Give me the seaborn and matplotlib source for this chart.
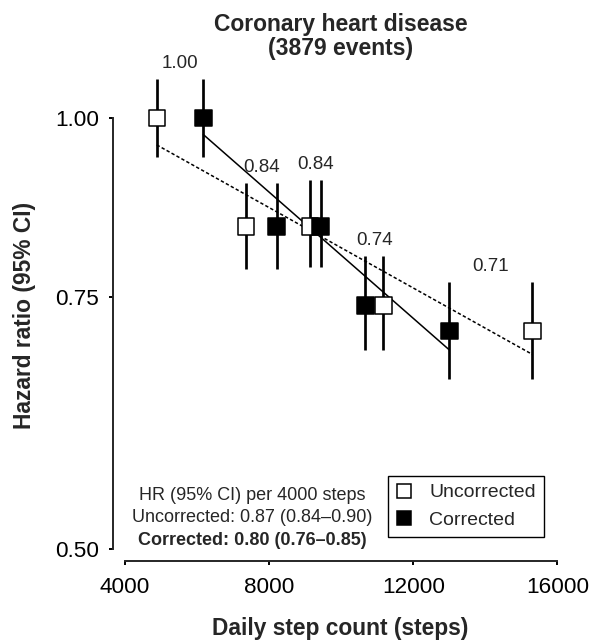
import matplotlib
matplotlib.use("Agg")
import matplotlib.pyplot as plt
from matplotlib.lines import Line2D
import pandas as pd
import seaborn as sns

# values
groups = ["Uncorrected", "Corrected"]
unc_steps = [4880, 7360, 9135, 11170, 15305]
cor_steps = [6175, 8210, 9430, 10670, 13000]
unc_hr = [1.00, 0.84, 0.84, 0.74, 0.71]
cor_hr = [1.00, 0.84, 0.84, 0.74, 0.71]
ci_low = [0.940, 0.785, 0.787, 0.689, 0.658]
ci_high = [1.065, 0.901, 0.905, 0.801, 0.769]
hr_labels = ["1.00", "0.84", "0.84", "0.74", "0.71"]

# end points of the fitted trend lines
unc_fit_steps = [4880, 15305]
unc_fit_hr = [0.958, 0.684]
cor_fit_steps = [6175, 13000]
cor_fit_hr = [0.974, 0.689]

x_ticks = [4000, 8000, 12000, 16000]
y_ticks = [0.50, 0.75, 1.00]
y_tick_labels = ["0.50", "0.75", "1.00"]

summary_lines = [
    "HR (95% CI) per 4000 steps",
    "Uncorrected: 0.87 (0.84\u20130.90)",
    "Corrected: 0.80 (0.76\u20130.85)",
]

W, H = 589, 642


def fx(px):
    return px / W


def fy(py):
    return 1 - py / H


sns.set_theme(style="ticks")
plt.rcParams["font.family"] = ["Liberation Sans", "DejaVu Sans"]

df = pd.DataFrame({
    "steps": unc_steps + cor_steps,
    "hr": unc_hr + cor_hr,
    "group": [groups[0]] * len(unc_steps) + [groups[1]] * len(cor_steps),
})

fig = plt.figure(figsize=(W / 100, H / 100), dpi=100)
ax = fig.add_axes([fx(113.3), fy(560.7), fx(568.2) - fx(113.3), fy(70.35) - fy(560.7)])
ax.set_yscale("log")

# trend lines
ax.plot(unc_fit_steps, unc_fit_hr, color="black", lw=1.1, linestyle=(0, (2.2, 1.5)), zorder=1)
ax.plot(cor_fit_steps, cor_fit_hr, color="black", lw=1.1, zorder=1)

# confidence intervals
ax.vlines(unc_steps, ci_low, ci_high, color="black", lw=1.95, zorder=2)
ax.vlines(cor_steps, ci_low, ci_high, color="black", lw=1.95, zorder=2)

sns.scatterplot(data=df, x="steps", y="hr", hue="group",
                palette={"Uncorrected": "white", "Corrected": "black"},
                marker="s", s=140, edgecolor="black", linewidth=1.1,
                legend=False, zorder=3, ax=ax)

# HR labels above each pair
for i, lab in enumerate(hr_labels):
    xm = (unc_steps[i] + cor_steps[i]) / 2
    ax.annotate(lab, (xm, ci_high[i]), xytext=(0, 7.9), textcoords="offset points",
                ha="center", va="baseline", fontsize=13.5)

ax.set_xlim(3675, 16300)
ax.set_ylim(0.4909, 1.08)
ax.set_xticks(x_ticks)
ax.set_xticklabels([str(t) for t in x_ticks])
ax.set_yticks(y_ticks)
ax.set_yticklabels(y_tick_labels)
ax.minorticks_off()
ax.set_xlabel("")
ax.set_ylabel("")

for side in ["top", "right"]:
    ax.spines[side].set_visible(False)
ax.spines["left"].set_bounds(0.5, 1.0)
ax.spines["bottom"].set_bounds(4000, 16000)
ax.spines["left"].set_linewidth(1.4)
ax.spines["bottom"].set_linewidth(1.4)
ax.tick_params(axis="both", length=3.2, width=1.4, color="black", labelsize=16.2, labelcolor="black")
ax.tick_params(axis="x", pad=8.4)
ax.tick_params(axis="y", pad=7.2)

# legend
handles = [
    Line2D([], [], marker="s", ls="none", markerfacecolor="white", markeredgecolor="black",
           markersize=10, markeredgewidth=1.1, label=groups[0]),
    Line2D([], [], marker="s", ls="none", markerfacecolor="black", markeredgecolor="black",
           markersize=10, markeredgewidth=1.1, label=groups[1]),
]
leg = ax.legend(handles=handles, loc="upper left", bbox_to_anchor=(fx(387.5), fy(476)),
                bbox_transform=fig.transFigure, borderaxespad=0, fontsize=14,
                frameon=True, fancybox=False, borderpad=0.4, handlelength=0.9,
                handletextpad=0.85, labelspacing=0.5)
leg.get_frame().set_edgecolor("black")
leg.get_frame().set_linewidth(1.0)
leg.get_frame().set_facecolor("white")
leg.get_frame().set_alpha(1)

# summary text block
baselines = [499.6, 522.0, 545.3]
for line, yb in zip(summary_lines, baselines):
    fig.text(fx(252.5), fy(yb), line, ha="center", va="baseline", fontsize=13,
             fontweight="bold" if line.startswith("Corrected") else "normal")

# title and axis labels
fig.text(fx(341), fy(30.7), "Coronary heart disease", ha="center", va="baseline",
         fontsize=16.5, fontweight="bold")
fig.text(fx(341), fy(55), "(3879 events)", ha="center", va="baseline",
         fontsize=16.5, fontweight="bold")
fig.text(fx(340.5), fy(635), "Daily step count (steps)", ha="center", va="baseline",
         fontsize=16.4, fontweight="bold")
fig.text(fx(25), fy(315), "Hazard ratio (95% CI)", ha="center", va="center",
         rotation=90, fontsize=16.4, fontweight="bold")

fig.savefig("out.png", dpi=100)
